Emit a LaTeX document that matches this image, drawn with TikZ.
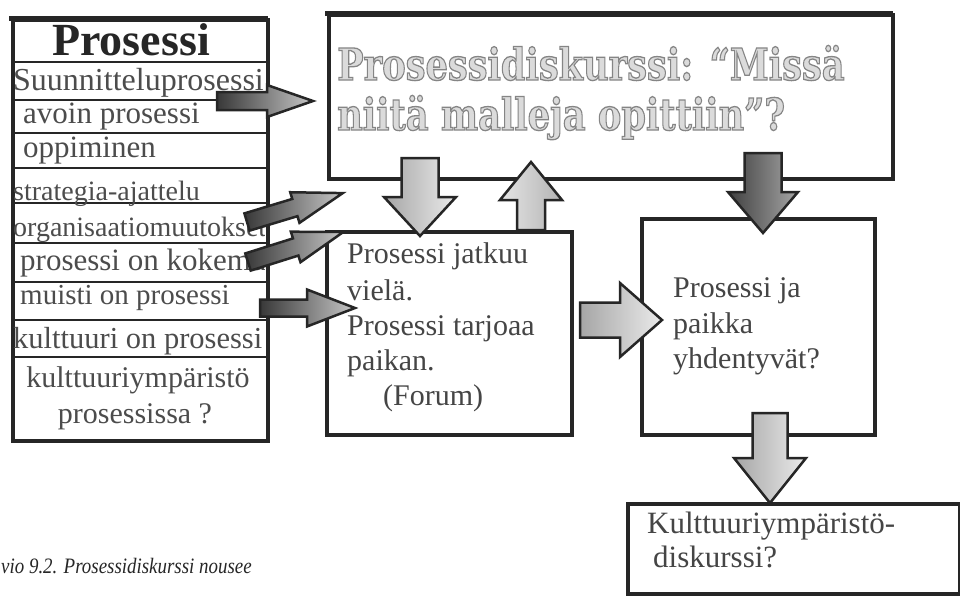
\documentclass[tikz,border=0pt]{standalone}
\usepackage{fontspec}
\setmainfont{Liberation Serif}
\newfontfamily\slabfont{DejaVu Serif}
\usepackage{graphicx}
\definecolor{edge}{HTML}{262626}
\definecolor{txt}{HTML}{454545}
\definecolor{rowtxt}{HTML}{4C4C4C}
\newcommand\fsz[1]{\fontsize{#1}{#1}\selectfont}
% outlined title text: light fill, grey stroke
\newcommand\ttlbox[1]{\scalebox{0.8}[1]{\slabfont\bfseries\fsz{44}\color{black!14}\special{pdf:literal direct 0.52 G 2 Tr 1.3 w}#1\special{pdf:literal direct 0 Tr}}}
% #1 style, #2 start, #3 angle, #4 length, #5 shaft half width, #6 head half width, #7 head length
\newcommand\blockarrow[7]{%
  \begin{scope}[shift={(#2)}, rotate=#3]
    \path[#1] (0,-#5) -- ({#4-#7},-#5) -- ({#4-#7},-#6) -- (#4,0) -- ({#4-#7},#6) -- ({#4-#7},#5) -- (0,#5) -- cycle;
  \end{scope}}
\tikzset{
  box/.style={draw=edge, line width=3.5pt, fill=white, inner sep=0pt, anchor=north west},
  rowline/.style={draw=edge, line width=2.5pt},
  rowtext/.style={anchor=base west, inner sep=0pt, text=rowtxt, font=\fsz{31}},
  bodytext/.style={anchor=base west, inner sep=0pt, text=txt, font=\fsz{30}},
  ttl/.style={anchor=base west, inner sep=0pt},
  arrowline/.style={draw=black!85, line width=2.5pt, line join=miter},
  darkarrow/.style={arrowline, left color=black!78, right color=black!22},
  lightarrow/.style={arrowline, left color=black!35, right color=black!8},
  uparrow/.style={arrowline, left color=black!10, right color=black!30},
  greyarrow/.style={arrowline, left color=black!75, right color=black!35},
}
\begin{document}
\begin{tikzpicture}[x=1pt,y=-1pt]
\useasboundingbox (0,0) rectangle (960,595);
\fill[white] (0,0) rectangle (960,595);

% ---------- left list box ----------
\node[box, minimum width=255pt, minimum height=421pt] (list) at (11,18) {};
\draw[edge, line width=5pt] (9,18) -- (268,18);
\foreach \yy in {62,100,133,168,203,243,282,320,357}
  \draw[rowline] (11,\yy) -- (266,\yy);
\node[anchor=base, inner sep=0pt, text=black!85, font=\bfseries\fsz{46}] (head) at (131,55) {Prosessi};
\begin{scope}
  \clip (13,20) rectangle (264,437);
  \node[rowtext, font=\fsz{32}] (r1) at (13,90) {Suunnitteluprosessi};
  \node[rowtext] (r2) at (23,123) {avoin prosessi};
  \node[rowtext] (r3) at (23,157) {oppiminen};
  \node[rowtext, font=\fsz{28}] (r4) at (13,200) {strategia-ajattelu};
  \node[rowtext, font=\fsz{28}] (r5) at (13,236) {organisaatiomuutokset};
  \node[rowtext] (r6) at (20,270) {prosessi on kokemus};
  \node[rowtext, font=\fsz{29}] (r7) at (20,304) {muisti on prosessi};
  \node[rowtext, font=\fsz{30.5}] (r8) at (13,348) {kulttuuri on prosessi};
  \node[rowtext, anchor=base, font=\fsz{30}] (r9) at (138,387) {kulttuuriympäristö};
  \node[rowtext, anchor=base, font=\fsz{30}] (r10) at (135,423) {prosessissa ?};
\end{scope}

% ---------- big title box ----------
\node[box, minimum width=564pt, minimum height=164pt] (big) at (327,13) {};
\draw[edge, line width=5pt] (325,13) -- (893,13);
\node[ttl] (title1) at (337,80) {\ttlbox{Prosessidiskurssi: “Missä}};
\node[ttl] (title2) at (337,130) {\ttlbox{niitä malleja opittiin”?}};

% ---------- middle box ----------
\node[box, minimum width=245pt, minimum height=203pt] (mid) at (325,230) {};
\node[bodytext] (m1) at (347,263) {Prosessi jatkuu};
\node[bodytext] (m2) at (347,300) {vielä.};
\node[bodytext] (m3) at (347,335) {Prosessi tarjoaa};
\node[bodytext] (m4) at (347,370) {paikan.};
\node[bodytext] (m5) at (383,405) {(Forum)};

% ---------- right box ----------
\node[box, minimum width=233pt, minimum height=216pt] (right) at (640,217) {};
\node[bodytext] (p1) at (673,297) {Prosessi ja};
\node[bodytext] (p2) at (673,333) {paikka};
\node[bodytext] (p3) at (673,368) {yhdentyvät?};

% ---------- bottom box ----------
\node[box, minimum width=332pt, minimum height=90pt] (bottom) at (626,502) {};
\node[bodytext, font=\fsz{31}] (k1) at (647,533) {Kulttuuriympäristö-};
\node[bodytext, font=\fsz{31}] (k2) at (653,567) {diskurssi?};

% ---------- caption ----------
\node[anchor=base west, inner sep=0pt, text=black!85] (cap) at (1,573) {\scalebox{0.86}[1]{\itshape\fsz{22}vio 9.2. Prosessidiskurssi nousee}};

% ---------- block arrows ----------
\coordinate (a1) at (217,101);
\coordinate (a2) at (247,222);
\coordinate (a3) at (248,262);
\coordinate (a4) at (260,308);
\coordinate (a5) at (420,158);
\coordinate (a6) at (531,230);
\coordinate (a7) at (763,153);
\coordinate (a8) at (580,320);
\coordinate (a9) at (770,413);

\blockarrow{darkarrow}{a1}{0}{96}{9}{16}{46}
\blockarrow{darkarrow}{a2}{16.8}{100}{9}{16}{50}
\blockarrow{darkarrow}{a3}{17.5}{100}{9}{16}{50}
\blockarrow{darkarrow}{a4}{0}{95}{8.5}{18.5}{48}
\blockarrow{lightarrow}{a5}{-90}{78}{18.5}{36}{39}
\blockarrow{uparrow}{a6}{90}{68}{14}{31}{38}
\blockarrow{greyarrow}{a7}{-90}{80}{18.5}{35}{41}
\blockarrow{lightarrow}{a8}{0}{82}{17.5}{37}{42}
\blockarrow{lightarrow}{a9}{-90}{90}{17.5}{36}{45}
\end{tikzpicture}
\end{document}
